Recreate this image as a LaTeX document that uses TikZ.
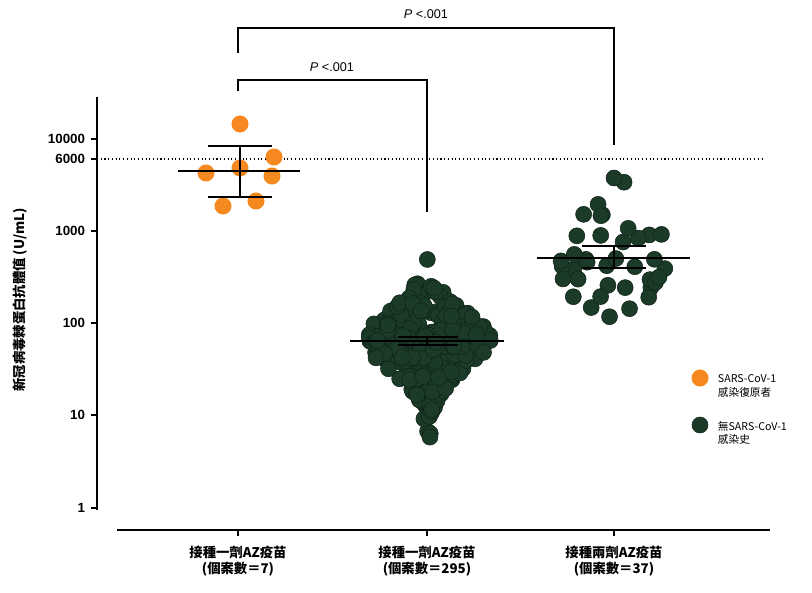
\documentclass[tikz,border=0pt]{standalone}
\usepackage{fontspec}
\setmainfont{Liberation Sans}
\newfontfamily\cjk{Noto Sans CJK TC}
\definecolor{recov}{RGB}{245,137,31}
\definecolor{naive}{RGB}{27,58,40}
\definecolor{naiveline}{RGB}{15,35,22}
\tikzset{every picture/.style={line width=0.75pt}}
\tikzset{
  dotO/.style={circle,fill=recov,draw=recov,inner sep=0pt,minimum size=12pt},
  dotG/.style={circle,fill=naive,draw=naiveline,line width=0.4pt,inner sep=0pt,minimum size=12pt},
  bar/.style={line width=2pt,black},
  brk/.style={line width=1.2pt,black},
  lbl/.style={font=\cjk\bfseries\fontsize{10}{12.5}\selectfont,align=center}
}
\begin{document}
\begin{tikzpicture}[x=0.75pt,y=0.75pt,yscale=-1,xscale=1]
\useasboundingbox (0,0) rectangle (812,592);
%axes
\draw [line width=1.2pt] (97,97) -- (97,510);
\draw [line width=1.2pt] (117,530) -- (770,530);
\foreach \y/\t in {139/10000,159/6000,231/1000,323/100,415/10,508/1}{
  \draw [line width=1.2pt] (91,\y) -- (97,\y);
  \node [anchor=east,font=\bfseries\fontsize{10}{12}\selectfont] (tick\t) at (90,\y) {\t};
}
\foreach \x in {238,427,614}{ \draw [line width=1.2pt] (\x,530) -- (\x,536); }
\node [rotate=90,font=\cjk\bfseries\fontsize{10}{12}\selectfont] (ylab) at (20,300) {新冠病毒棘蛋白抗體值 (U/mL)};
%cutoff
\draw [dotted,line width=0.8pt] (97,159) -- (765,159);
%recovered
\foreach \px/\py in {240/124,274/157,206/173,240/168,272/176,223/206,256/201}
  \node [dotO] at (\px,\py) {};
\draw [bar] (178,171) -- (300,171);
\draw [bar] (240,146) -- (240,197);
\draw [bar] (208,146) -- (272,146);
\draw [bar] (208,197) -- (272,197);
%one dose
\pgfmathsetseed{42}
\foreach \i in {1,...,295}{
  \pgfmathsetmacro\ua{max(rnd,0.002)}
  \pgfmathsetmacro\ub{rnd}
  \pgfmathsetmacro\dz{sqrt(-2*ln(\ua))*cos(360*\ub)}
  \pgfmathsetmacro\dy{min(max((\dz<0?26:34)*\dz,-93),107)}
  \pgfmathsetmacro\w{60*exp(-(\dy/40)^2)+4}
  \pgfmathsetmacro\dx{(2*rnd-1)*\w}
  \node [dotG] at (427+\dx,341+\dy) {};
}
\draw [bar] (350,341) -- (504,341);
\draw [bar] (427,337) -- (427,345);
\draw [bar] (398,337) -- (458,337);
\draw [bar] (398,345) -- (458,345);
%two doses
\pgfmathsetseed{7}
\foreach \i in {1,...,37}{
  \pgfmathsetmacro\ua{max(rnd,0.002)}
  \pgfmathsetmacro\ub{rnd}
  \pgfmathsetmacro\dy{min(max(32*sqrt(-2*ln(\ua))*cos(360*\ub),-80),65)}
  \pgfmathsetmacro\w{52*exp(-(\dy/60)^2)+8}
  \pgfmathsetmacro\dx{(2*rnd-1)*\w}
  \node [dotG] at (614+\dx,258+\dy) {};
}
\node [dotG] at (614,178) {};
\draw [bar] (537,258) -- (690,258);
\draw [bar] (614,246) -- (614,268);
\draw [bar] (582,246) -- (646,246);
\draw [bar] (582,268) -- (646,268);
%significance
\draw [brk] (238,91) -- (238,80) -- (427,80) -- (427,212);
\draw [brk] (238,53) -- (238,28) -- (614,28) -- (614,145);
\node [font=\fontsize{9.5}{11}\selectfont] (p1) at (332,67) {\textit{P} <.001};
\node [font=\fontsize{9.5}{11}\selectfont] (p2) at (426,14) {\textit{P} <.001};
%categories
\node [lbl] (c1) at (238,561) {接種一劑AZ疫苗\\(個案數＝7)};
\node [lbl] (c2) at (427,561) {接種一劑AZ疫苗\\(個案數＝295)};
\node [lbl] (c3) at (614,561) {接種兩劑AZ疫苗\\(個案數＝37)};
%legend
\node [dotO] (lgO) at (700,378) {};
\node [dotG] (lgG) at (700,425) {};
\node [anchor=west,align=left,font=\cjk\fontsize{8}{10}\selectfont] (tO) at (713,386) {SARS-CoV-1\\感染復原者};
\node [anchor=west,align=left,font=\cjk\fontsize{8}{10}\selectfont] (tG) at (713,433) {無SARS-CoV-1\\感染史};
\end{tikzpicture}
\end{document}
